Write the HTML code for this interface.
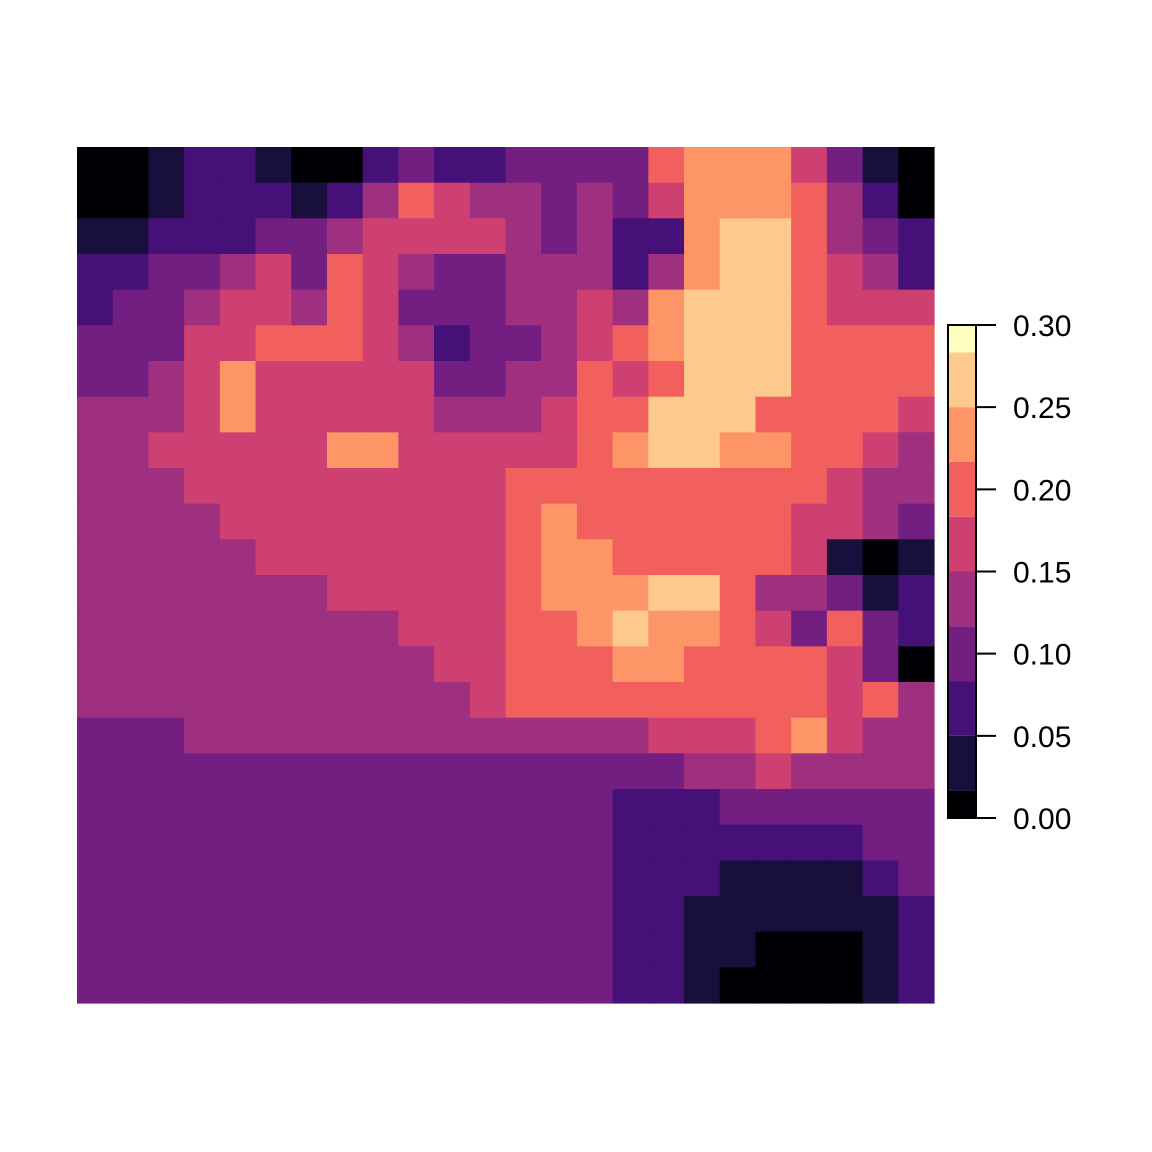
<!DOCTYPE html>
<html><head><meta charset="utf-8"><style>
html,body{margin:0;padding:0;background:#fff;}
svg{display:block;}
text{font-family:"Liberation Sans",sans-serif;font-size:30px;fill:#000;}
</style></head><body>
<svg id="chart" width="1152" height="1152" viewBox="0 0 1152 1152" xmlns="http://www.w3.org/2000/svg">
<g id="cells"></g>
<g id="legend"></g>
</svg>
<script>
// grid values in units of 1/30 (each digit = value*30)
const gridRows = [
"001221002322333367775310",
"001222124654434357776420",
"112223345555434227886432",
"223345365433444247886542",
"233455465333445478886555",
"333556665423345678886666",
"334575555533446568886666",
"444575555544456688866665",
"445555577555556788776654",
"444555555555666666666544",
"444455555555676666665543",
"444445555555677666665101",
"444444455555677788644312",
"444444444555667877653632",
"444444444455666776666530",
"444444444445666666666564",
"333444444444444455567544",
"333333333333333334454444",
"333333333333333222333333",
"333333333333333222222233",
"333333333333333222111123",
"333333333333333221111112",
"333333333333333221100012",
"333333333333333221000012"
];
const gridValues = gridRows.map(r => r.split('').map(d => Number(d) / 30));
const breaks = [0, 1/60, 3/60, 5/60, 7/60, 9/60, 11/60, 13/60, 15/60, 17/60, 0.30];
const palette = ["#000004","#180F3D","#451077","#721F81","#9F2F7F","#CD4071","#F1605D","#FD9567","#FEC98D","#FCFDBF"];
const tickValues = [0.00, 0.05, 0.10, 0.15, 0.20, 0.25, 0.30];
const tickLabels = ["0.00","0.05","0.10","0.15","0.20","0.25","0.30"];

const NS = "http://www.w3.org/2000/svg";
const X0 = 77, X1 = 934, Y0 = 147, Y1 = 1003;
const nRows = gridValues.length, nCols = gridValues[0].length;
const xCell = c => X0 + (X1 - X0) * c / nCols;
const yCell = r => Y0 + (Y1 - Y0) * r / nRows;
function colorFor(v){
  for (let i = 0; i < palette.length; i++) if (v < breaks[i+1]) return palette[i];
  return palette[palette.length-1];
}
const cells = document.getElementById('cells');
gridValues.forEach((row, r) => row.forEach((v, c) => {
  const el = document.createElementNS(NS, 'rect');
  
  
  const x = xCell(c), y = yCell(r);
  el.setAttribute('x', x); el.setAttribute('y', y);
  el.setAttribute('width', xCell(c+1) - x + 0.6);
  el.setAttribute('height', yCell(r+1) - y + 0.6);
  el.setAttribute('fill', colorFor(v));
  cells.appendChild(el);
}));

// legend
const LB = 818, LT = 325, LX0 = 948, LX1 = 976;
const yLeg = v => LB - (LB - LT) * v / 0.30;
const legend = document.getElementById('legend');
palette.forEach((col, i) => {
  const el = document.createElementNS(NS, 'rect');
  
  
  el.setAttribute('x', LX0); el.setAttribute('y', yLeg(breaks[i+1]));
  el.setAttribute('width', LX1 - LX0);
  el.setAttribute('height', yLeg(breaks[i]) - yLeg(breaks[i+1]));
  el.setAttribute('fill', col);
  legend.appendChild(el);
});
const frame = document.createElementNS(NS, 'rect');


frame.setAttribute('x', LX0); frame.setAttribute('y', LT);
frame.setAttribute('width', LX1 - LX0); frame.setAttribute('height', LB - LT);
frame.setAttribute('fill', 'none'); frame.setAttribute('stroke', '#000'); frame.setAttribute('stroke-width', '2');
legend.appendChild(frame);
tickValues.forEach((v, i) => {
  const y = yLeg(v);
  const t = document.createElementNS(NS, 'line');
  
  
  t.setAttribute('x1', LX1); t.setAttribute('x2', 996);
  t.setAttribute('y1', y); t.setAttribute('y2', y);
  t.setAttribute('stroke', '#000'); t.setAttribute('stroke-width', '2');
  legend.appendChild(t);
  const lab = document.createElementNS(NS, 'text');
  
  
  lab.setAttribute('x', 1013); lab.setAttribute('y', y + 11);
  lab.textContent = tickLabels[i];
  legend.appendChild(lab);
});
</script>
</body></html>
